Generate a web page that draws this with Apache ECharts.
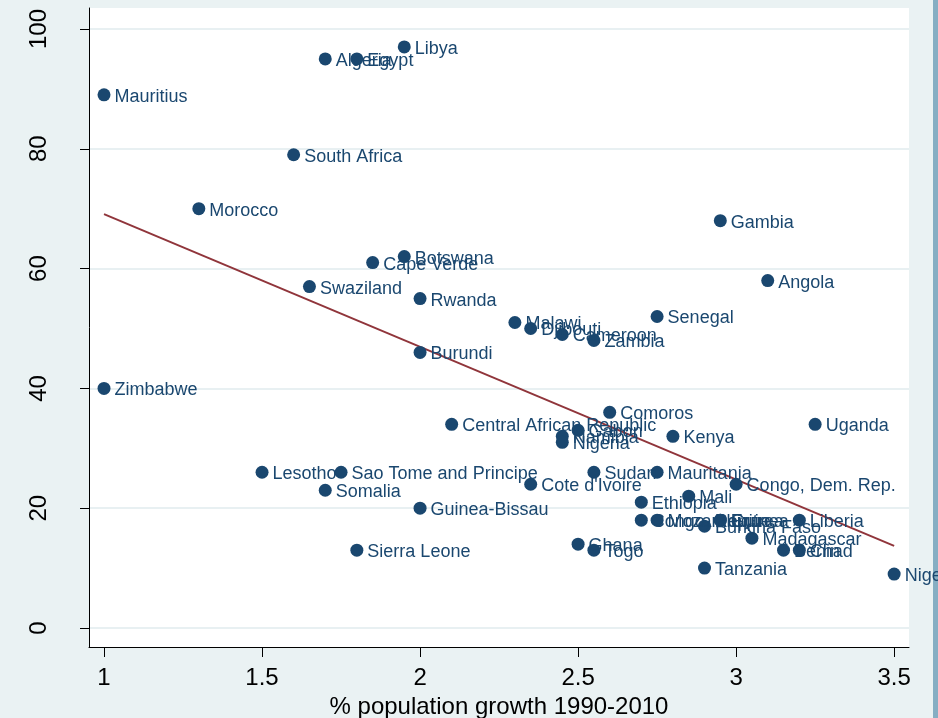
<!DOCTYPE html>
<html>
<head>
<meta charset="utf-8">
<script src="https://cdn.jsdelivr.net/npm/echarts@6/dist/echarts.min.js"></script>
<style>
    html, body { margin: 0; padding: 0; background: #eaf2f3; }
    #chart { width: 938px; height: 718px; }
</style>
</head>
<body>
<div id="chart"></div>
<script>
// countries, growth 1990-2010 (x) and the y value
let countries = ['Libya', 'Algeria', 'Egypt', 'Mauritius', 'South Africa', 'Morocco', 'Gambia',
    'Botswana', 'Cape Verde', 'Angola', 'Swaziland', 'Rwanda', 'Senegal', 'Malawi', 'Djibouti',
    'Cameroon', 'Zambia', 'Burundi', 'Zimbabwe', 'Comoros', 'Uganda', 'Central African Republic',
    'Gabon', 'Kenya', 'Namibia', 'Nigeria', 'Lesotho', 'Sao Tome and Principe', 'Sudan',
    'Mauritania', 'Somalia', "Cote d'Ivoire", 'Congo, Dem. Rep.', 'Mali', 'Ethiopia',
    'Guinea-Bissau', 'Congo, Rep.', 'Mozambique', 'Burkina Faso', 'Guinea', 'Eritrea', 'Liberia',
    'Madagascar', 'Benin', 'Chad', 'Ghana', 'Togo', 'Sierra Leone', 'Tanzania', 'Niger'];
let growth = [1.95, 1.7, 1.8, 1.0, 1.6, 1.3, 2.95,
    1.95, 1.85, 3.1, 1.65, 2.0, 2.75, 2.3, 2.35,
    2.45, 2.55, 2.0, 1.0, 2.6, 3.25, 2.1,
    2.5, 2.8, 2.45, 2.45, 1.5, 1.75, 2.55,
    2.75, 1.7, 2.35, 3.0, 2.85, 2.7,
    2.0, 2.7, 2.75, 2.9, 2.95, 2.95, 3.2,
    3.05, 3.15, 3.2, 2.5, 2.55, 1.8, 2.9, 3.5];
let values = [97, 95, 95, 89, 79, 70, 68,
    62, 61, 58, 57, 55, 52, 51, 50,
    49, 48, 46, 40, 36, 34, 34,
    33, 32, 32, 31, 26, 26, 26,
    26, 23, 24, 24, 22, 21,
    20, 18, 18, 17, 18, 18, 18,
    15, 13, 13, 14, 13, 13, 10, 9];
// fitted line end points
let fitX = [1, 3.5];
let fitY = [69.1, 13.7];
let xTicks = [1, 1.5, 2, 2.5, 3, 3.5];
let yTicks = [0, 20, 40, 60, 80, 100];

let navy = '#1a476f';
let axisFont = 'Liberation Sans, Arial, sans-serif';

let points = countries.map((c, i) => ({name: c, value: [growth[i], values[i]]}));

let option = {
    backgroundColor: '#eaf2f3',
    animation: false,
    grid: {
        left: 89,
        right: 29,
        top: 8,
        bottom: 71,
        outerBoundsMode: 'none',
        show: true,
        backgroundColor: '#ffffff',
        borderWidth: 0
    },
    xAxis: {
        type: 'value',
        min: 0.9525,
        max: 3.547,
        name: '% population growth 1990-2010',
        nameLocation: 'middle',
        nameGap: 44,
        nameTextStyle: {
            color: '#000',
            fontSize: 24,
            fontFamily: axisFont
        },
        axisLine: {
            onZero: false,
            lineStyle: {color: '#000', width: 1}
        },
        axisTick: {
            customValues: xTicks,
            length: 10,
            lineStyle: {color: '#000'}
        },
        axisLabel: {
            customValues: xTicks,
            color: '#000',
            fontSize: 24,
            fontFamily: axisFont,
            margin: 19
        },
        splitLine: {show: false}
    },
    yAxis: {
        type: 'value',
        min: -3.17,
        max: 103.5,
        axisLine: {
            show: true,
            onZero: false,
            lineStyle: {color: '#000', width: 1}
        },
        axisTick: {
            show: true,
            customValues: yTicks,
            length: 9,
            lineStyle: {color: '#000'}
        },
        axisLabel: {
            customValues: yTicks,
            rotate: 90,
            color: '#000',
            fontSize: 24,
            fontFamily: axisFont,
            margin: 38
        },
        splitLine: {
            show: true,
            lineStyle: {color: '#e8f0f2', width: 2}
        }
    },
    series: [
        {
            type: 'scatter',
            data: points,
            symbolSize: 13,
            itemStyle: {color: navy, opacity: 1},
            label: {
                show: true,
                position: 'right',
                distance: 4,
                offset: [0, 2],
                formatter: '{b}',
                color: navy,
                fontSize: 18,
                fontFamily: 'Liberation Sans, Arial, sans-serif'
            },
            z: 3
        },
        {
            type: 'line',
            data: fitX.map((x, i) => [x, fitY[i]]),
            symbol: 'none',
            lineStyle: {color: '#90353b', width: 2},
            z: 2
        }
    ],
    graphic: [
        {
            type: 'rect',
            shape: {x: 933, y: 0, width: 5, height: 718},
            style: {fill: '#86aec3'},
            silent: true
        }
    ]
};

let chart = echarts.init(document.getElementById('chart'));
chart.setOption(option);
</script>
</body>
</html>
